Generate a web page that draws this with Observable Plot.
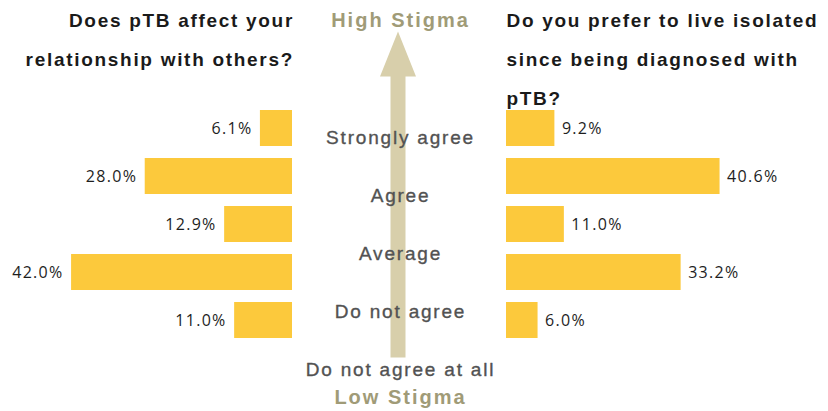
<!DOCTYPE html>
<html><head><meta charset="utf-8">
<script src="https://cdn.jsdelivr.net/npm/d3@7"></script>
<script src="https://cdn.jsdelivr.net/npm/@observablehq/plot@0.6"></script>
<style>
body{margin:0;background:#fff}
#chart{display:flex;width:828px;height:411px}
#chart svg{overflow:visible;flex:none}
g[fill="#1a1a1a"] text{letter-spacing:1.7px}
g[fill="#1e1e1e"] text{letter-spacing:1.3px}
g[fill="#525252"] text{letter-spacing:1.8px}
g[fill="#a09b77"] text{letter-spacing:2px}
</style></head><body><div id="chart"></div>
<script>
// ---- data ----
const categories = ["Strongly agree", "Agree", "Average", "Do not agree", "Do not agree at all"];
const leftValues = [6.1, 28.0, 12.9, 42.0, 11.0];
const rightValues = [9.2, 40.6, 11.0, 33.2, 6.0];
const leftTitle = ["Does pTB affect your", "relationship with others?"];
const rightTitle = ["Do you prefer to live isolated", "since being diagnosed with", "pTB?"];
const highLabel = "High Stigma";
const lowLabel = "Low Stigma";

// ---- styles ----
const barColor = "#fcc93c";
const arrowColor = "#d8cfab";
const stigmaColor = "#a09b77";
const labelColor = "#525252";
const titleColor = "#1a1a1a";
const valueColor = "#1e1e1e";
const titleFont = "Liberation Sans, Arial, sans-serif";
const valueFont = "Open Sans, sans-serif";
const pxPerPct = 5.26;

const leftData = categories.map((c, i) => ({category: c, value: leftValues[i]}));
const rightData = categories.map((c, i) => ({category: c, value: rightValues[i]}));

const barY = {type: "band", domain: categories, paddingInner: 0.25, paddingOuter: 0.125, axis: null};
const fmt = d => d.value.toFixed(1) + "%";

function sidePlot(data, width, side, title) {
  const left = side === "left";
  return Plot.plot({
    width, height: 411,
    marginLeft: 0, marginRight: 0, marginTop: 104, marginBottom: 67,
    x: {domain: [0, width / pxPerPct], reverse: left, axis: null},
    y: barY,
    marks: [
      Plot.barX(data, {x: "value", y: "category", fill: barColor}),
      Plot.text(data, {
        x: "value", y: "category", text: fmt,
        textAnchor: left ? "end" : "start", dx: left ? -8 : 7,
        fontFamily: valueFont, fontSize: 16, fill: valueColor
      }),
      Plot.text([title.join("\n")], {
        frameAnchor: left ? "top-right" : "top-left", textAnchor: left ? "end" : "start",
        lineAnchor: "top", dy: 13 - 104 - 14, dx: left ? 1.5 : 0, lineHeight: 2.05,
        fontFamily: titleFont, fontSize: 19, fontWeight: "bold", fill: titleColor
      })
    ]
  });
}

const thickArrow = {
  draw(ctx, l) {
    const headLen = 45, headHalf = 18, shaftHalf = 7.5;
    ctx.moveTo(-shaftHalf, 0);
    ctx.lineTo(-shaftHalf, headLen - l);
    ctx.lineTo(-headHalf, headLen - l);
    ctx.lineTo(0, -l);
    ctx.lineTo(headHalf, headLen - l);
    ctx.lineTo(shaftHalf, headLen - l);
    ctx.lineTo(shaftHalf, 0);
    ctx.closePath();
  }
};

const middle = Plot.plot({
  width: 214, height: 411,
  marginLeft: 0, marginRight: 0, marginTop: 135, marginBottom: 41,
  y: {type: "point", domain: categories, padding: 0, axis: null},
  marks: [
    Plot.vector([categories[categories.length - 1]], {
      y: d => d, length: 326, anchor: "start", shape: thickArrow,
      fill: arrowColor, stroke: "none", dy: -12, dx: -1.5
    }),
    Plot.text(categories, {
      y: d => d, text: d => d, fontFamily: titleFont, fontSize: 19,
      fill: labelColor, stroke: labelColor, strokeWidth: 0.35, dx: 1
    }),
    Plot.text([highLabel], {
      frameAnchor: "top", lineAnchor: "top", dy: 12 - 135, dx: 1,
      fontFamily: titleFont, fontSize: 20, fontWeight: "bold", fill: stigmaColor
    }),
    Plot.text([lowLabel], {
      frameAnchor: "bottom", lineAnchor: "top", dy: 19, dx: 1,
      fontFamily: titleFont, fontSize: 20, fontWeight: "bold", fill: stigmaColor
    })
  ]
});

const chart = document.getElementById("chart");
chart.append(sidePlot(leftData, 292, "left", leftTitle), middle, sidePlot(rightData, 322, "right", rightTitle));
</script></body></html>
